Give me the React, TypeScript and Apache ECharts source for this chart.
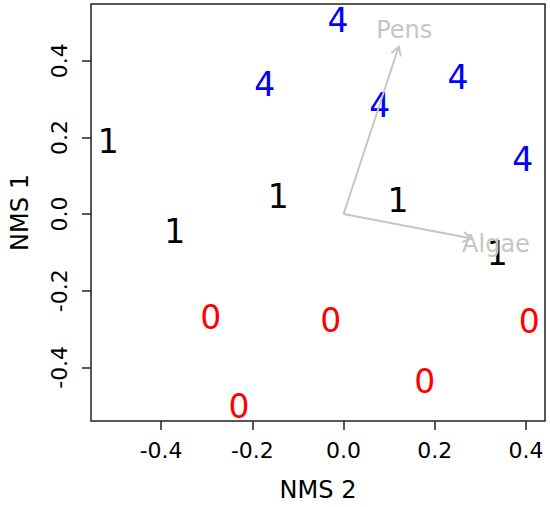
import React, { useEffect, useRef } from "react";
import * as echarts from "echarts";

// Site scores by group (NMS 2 on x, NMS 1 on y)
const group4X = [-0.012, -0.173, 0.251, 0.079, 0.393];
const group4Y = [0.504, 0.337, 0.357, 0.283, 0.142];
const group1X = [-0.516, -0.37, -0.143, 0.119, 0.337];
const group1Y = [0.189, -0.046, 0.046, 0.035, -0.103];
const group0X = [-0.291, -0.028, -0.229, 0.407, 0.178];
const group0Y = [-0.269, -0.278, -0.501, -0.28, -0.437];

// Environmental vectors
const vectorNames = ["Pens", "Algae"];
const vectorX = [0.121, 0.281];
const vectorY = [0.437, -0.064];
const vectorLabelX = [0.133, 0.334];
const vectorLabelY = [0.48, -0.078];

const tickValues = [-0.4, -0.2, 0, 0.2, 0.4];

const FONT = "'DejaVu Sans', 'Liberation Sans', Arial, sans-serif";
const GRAY = "#c6c6c6";

function groupSeries(label: string, xs: number[], ys: number[], color: string) {
  return {
    type: "scatter",
    data: xs.map((x, i) => [x, ys[i]]),
    symbol: "circle",
    symbolSize: 2,
    silent: true,
    z: 3,
    itemStyle: { color: "rgba(0,0,0,0)", opacity: 1 },
    label: {
      show: true,
      position: "inside",
      formatter: label,
      color,
      opacity: 1,
      fontSize: 33,
      fontFamily: FONT,
      textBorderWidth: 0,
      textBorderColor: "transparent",
    },
  };
}

export default function App() {
  const ref = useRef<HTMLDivElement>(null);
  useEffect(() => {
    document.body.style.margin = "0";
    const chart = echarts.init(ref.current!, null, { renderer: "svg" });
    const axisCommon = {
      type: "value",
      axisLine: { show: false, onZero: false },
      splitLine: { show: false },
      axisTick: {
        show: true,
        inside: false,
        length: 9,
        customValues: tickValues,
        lineStyle: { color: "#222", width: 1.5 },
      },
      nameLocation: "middle",
      nameTextStyle: { fontSize: 24, color: "#000", fontFamily: FONT },
    };
    chart.setOption({
      animation: false,
      textStyle: { fontFamily: FONT },
      grid: {
        left: 90,
        right: 5,
        top: 4,
        bottom: 84,
        show: true,
        borderColor: "#222",
        borderWidth: 1.5,
        backgroundColor: "transparent",
      },
      xAxis: {
        ...axisCommon,
        min: -0.5537,
        max: 0.4415,
        name: "NMS 2",
        nameGap: 57,
        axisLabel: {
          customValues: tickValues,
          formatter: (v: number) => v.toFixed(1),
          fontSize: 22,
          color: "#000",
          margin: 18,
          fontFamily: FONT,
        },
      },
      yAxis: {
        ...axisCommon,
        min: -0.54,
        max: 0.548,
        name: "NMS 1",
        nameGap: 59,
        axisLabel: {
          customValues: tickValues,
          formatter: (v: number) => v.toFixed(1),
          fontSize: 22,
          color: "#000",
          margin: 21,
          rotate: 90,
          fontFamily: FONT,
        },
      },
      series: [
        groupSeries("4", group4X, group4Y, "#0000ff"),
        groupSeries("1", group1X, group1Y, "#000000"),
        groupSeries("0", group0X, group0Y, "#ff0000"),
        {
          type: "custom",
          z: 5,
          silent: true,
          data: vectorX.map((x, i) => [x, vectorY[i], vectorLabelX[i], vectorLabelY[i], i]),
          renderItem: (params: any, api: any) => {
            const o = api.coord([0, 0]);
            const t = api.coord([api.value(0), api.value(1)]);
            const l = api.coord([api.value(2), api.value(3)]);
            const idx = api.value(4);
            const ang = Math.atan2(t[1] - o[1], t[0] - o[0]);
            const len = 10;
            const a = Math.PI / 6;
            const p1 = [t[0] - len * Math.cos(ang - a), t[1] - len * Math.sin(ang - a)];
            const p2 = [t[0] - len * Math.cos(ang + a), t[1] - len * Math.sin(ang + a)];
            return {
              type: "group",
              children: [
                {
                  type: "line",
                  shape: { x1: o[0], y1: o[1], x2: t[0], y2: t[1] },
                  style: { stroke: GRAY, lineWidth: 2 },
                },
                {
                  type: "polyline",
                  shape: { points: [p1, t, p2] },
                  style: { stroke: GRAY, lineWidth: 2, fill: "none" },
                },
                {
                  type: "text",
                  x: l[0],
                  y: l[1],
                  style: {
                    text: vectorNames[idx],
                    fill: GRAY,
                    fontSize: 24,
                    fontFamily: FONT,
                    align: "center",
                    verticalAlign: "middle",
                  },
                },
              ],
            };
          },
        },
      ],
    });
    return () => chart.dispose();
  }, []);
  return <div ref={ref} style={{ width: 550, height: 507 }} />;
}
